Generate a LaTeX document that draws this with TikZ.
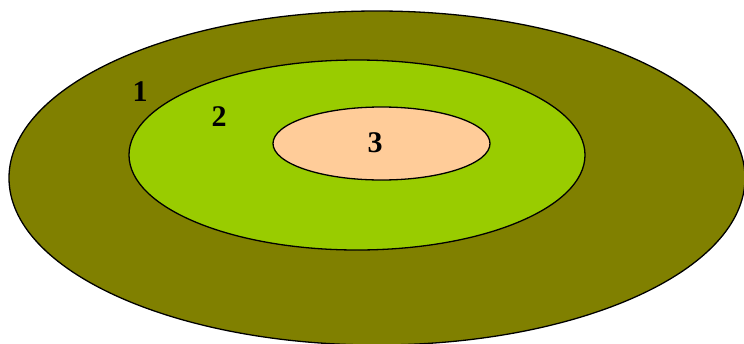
\documentclass[tikz,border=0pt]{standalone}
\usepackage{fontspec}
\setmainfont{Liberation Serif}
\usetikzlibrary{positioning}

\begin{document}
\begin{tikzpicture}[
  x=1pt, y=-1pt,
  ring/.style={draw=black, line width=1.3pt},
  num/.style={font=\fontsize{30}{30}\selectfont\bfseries, inner sep=0pt},
]
\useasboundingbox (0,0) rectangle (744,343);
\fill[white] (0,0) rectangle (744,343);
% rings, from outside in
\draw[ring, fill={rgb,255:red,128;green,128;blue,0}] (377,178) ellipse (368 and 167);
\draw[ring, fill={rgb,255:red,153;green,204;blue,0}] (357,155) ellipse (228 and 95);
\draw[ring, fill={rgb,255:red,255;green,204;blue,153}] (381.5,143.5) ellipse (108.5 and 36.5);
% labels
\node[num] (one) at (140,92) {1};
\node[num] (two) at (219,117) {2};
\node[num] (three) at (375,143) {3};
\end{tikzpicture}
\end{document}
